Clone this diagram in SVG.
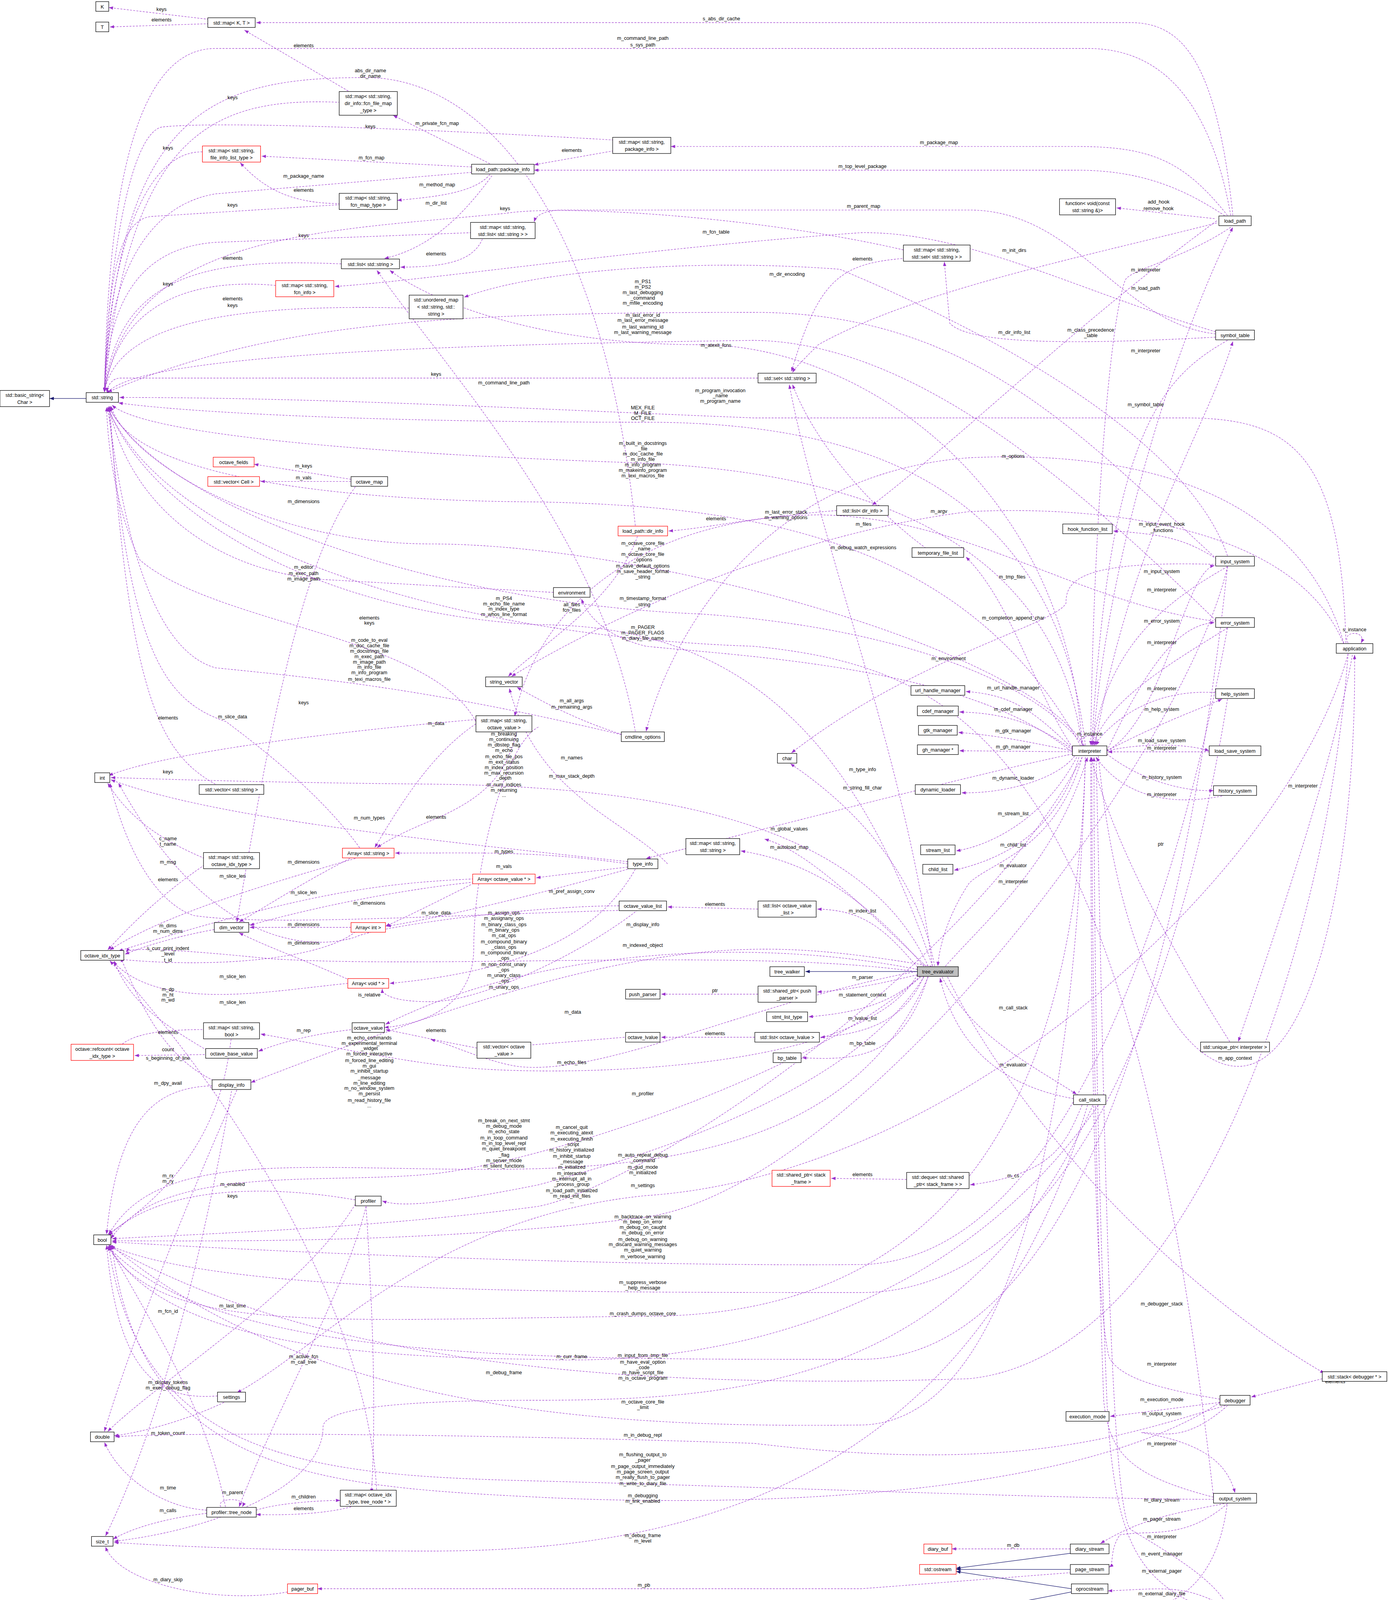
<svg xmlns="http://www.w3.org/2000/svg" width="3557" height="4321" viewBox="0 0 3557 4321">
<defs>
<style>
.n rect{fill:#fff;stroke:#000;stroke-width:.45}
.n.r rect{stroke:#f00}
.n.g rect{fill:#bfbfbf}
text{font-family:"Liberation Sans",Arial,sans-serif;font-size:4.6px;fill:#000}
.n text{text-anchor:middle}
.l{text-anchor:middle}
#edges path.e{fill:none;stroke:#9a32cd;stroke-width:.4;stroke-dasharray:1.8,1.2;marker-end:url(#ap)}
#edges path.b{fill:none;stroke:#191970;stroke-width:.45;marker-end:url(#ab)}
</style>
<marker id="ap" markerUnits="userSpaceOnUse" markerWidth="4" markerHeight="3" refX="4" refY="1.5" orient="auto"><path d="M0,0L4,1.5L0,3z" fill="#9a32cd"/></marker>
<marker id="ab" markerUnits="userSpaceOnUse" markerWidth="4" markerHeight="3" refX="4" refY="1.5" orient="auto"><path d="M0,0L4,1.5L0,3z" fill="#191970"/></marker>
</defs>
<rect width="3557" height="4321" fill="#fff"/>
<g transform="scale(2.7574)">
<g id="edges">
<path class="e" d="M194,18L101,7"/><text class="l" x="150" y="10">keys</text>
<path class="e" d="M194,22L102,25"/><text class="l" x="150" y="20">elements</text>
<path class="e" d="M1145,200C1130,60 1100,21 1050,21L238,21"/><text class="l" x="670" y="19">s_abs_dir_cache</text>
<path class="e" d="M1143,200C1120,70 1060,45 1010,45L200,45C120,45 100,200 97,364"/><text class="l" x="597" y="37">m_command_line_path</text><text class="l" x="597" y="43">s_sys_path</text>
<path class="e" d="M326,86L227,28"/><text class="l" x="282" y="44">elements</text>
<path class="e" d="M590,488C560,200 450,72 340,72C200,72 110,100 97,364"/><text class="l" x="344" y="67">abs_dir_name</text><text class="l" x="344" y="72">dir_name</text>
<path class="e" d="M316,95C200,90 120,120 97,364"/><text class="l" x="216" y="92">keys</text>
<path class="e" d="M570,130C400,120 200,112 150,118C120,125 100,250 97,364"/><text class="l" x="344" y="119">keys</text>
<path class="e" d="M188,141C130,140 100,250 97,364"/><text class="l" x="156" y="139">keys</text>
<path class="e" d="M438,155L243,145"/><text class="l" x="345" y="148">m_fcn_map</text>
<path class="e" d="M455,152L365,107"/><text class="l" x="406" y="116">m_private_fcn_map</text>
<path class="e" d="M570,140L496,153"/><text class="l" x="531" y="141">elements</text>
<path class="e" d="M1140,200C1100,150 1070,136 1000,136L623,136"/><text class="l" x="872" y="134">m_package_map</text>
<path class="e" d="M1140,202C1100,175 1060,158 1000,158L496,158"/><text class="l" x="801" y="156">m_top_level_package</text>
<path class="e" d="M438,160L200,180C140,190 100,250 97,364"/><text class="l" x="282" y="165">m_package_name</text>
<path class="e" d="M455,162C440,180 400,183 369,186"/><text class="l" x="406" y="173">m_method_map</text>
<path class="e" d="M316,189C270,189 245,175 223,151"/><text class="l" x="282" y="178">elements</text>
<path class="e" d="M316,190L140,201C110,205 100,260 97,364"/><text class="l" x="216" y="192">keys</text>
<path class="e" d="M457,163C430,200 400,230 357,240"/><text class="l" x="405" y="190">m_dir_list</text>
<path class="e" d="M448,222C440,240 420,248 372,248"/><text class="l" x="405" y="237">elements</text>
<path class="e" d="M438,216L200,225C130,230 100,280 97,364"/><text class="l" x="282" y="220">keys</text>
<path class="e" d="M1129,310C1040,300 1000,195 900,195L520,195C500,196 497,203 496,206"/><text class="l" x="802" y="193">m_parent_map</text>
<path class="e" d="M839,232C700,200 520,190 470,198C300,215 120,215 97,364"/><text class="l" x="469" y="195">keys</text>
<path class="e" d="M317,245C200,240 110,250 97,364"/><text class="l" x="216" y="241">elements</text>
<path class="e" d="M256,265C180,258 110,280 97,364"/><text class="l" x="156" y="265">keys</text>
<path class="e" d="M1129,308C1000,270 900,215 800,216C600,230 400,260 311,266"/><text class="l" x="665" y="217">m_fcn_table</text>
<path class="e" d="M838,240C780,245 760,260 735,345"/><text class="l" x="801" y="242">elements</text>
<path class="e" d="M380,286C250,283 110,290 97,364"/><text class="l" x="216" y="279">elements</text><text class="l" x="216" y="285">keys</text>
<path class="e" d="M1140,516C1100,400 900,300 780,250C650,240 500,250 431,276"/><text class="l" x="731" y="256">m_dir_encoding</text>
<path class="e" d="M1130,207C1000,240 850,270 760,320C745,335 738,342 736,346"/><text class="l" x="942" y="234">m_init_dirs</text>
<path class="e" d="M590,679C560,500 420,350 350,251"/><text class="l" x="468" y="357">m_command_line_path</text>
<path class="e" d="M1005,692C990,450 800,320 650,320C500,320 400,280 362,251"/><text class="l" x="665" y="322">m_atexit_fcns</text>
<path class="e" d="M1130,519C1000,400 900,290 700,290C400,290 250,300 100,364"/><text class="l" x="597" y="263">m_PS1</text><text class="l" x="597" y="268">m_PS2</text><text class="l" x="597" y="273">m_last_debugging</text><text class="l" x="597" y="278">_command</text><text class="l" x="597" y="283">m_mfile_encoding</text>
<path class="e" d="M1129,576C1000,450 850,318 700,316C400,320 120,330 99,366"/><text class="l" x="597" y="294">m_last_error_id</text><text class="l" x="597" y="299">m_last_error_message</text><text class="l" x="597" y="305">m_last_warning_id</text><text class="l" x="597" y="310">m_last_warning_message</text>
<path class="e" d="M1129,313C1000,320 900,320 882,300L877,243"/><text class="l" x="942" y="310">m_dir_info_list</text><text class="l" x="1013" y="308">m_class_precedence</text><text class="l" x="1013" y="313">_table</text>
<path class="e" d="M704,351L112,351C104,351 100,358 99,364"/><text class="l" x="405" y="349">keys</text>
<path class="e" d="M1015,692C1030,500 1100,300 1145,211"/><text class="l" x="1064" y="269">m_load_path</text>
<path class="e" d="M1143,211C1100,240 1050,250 1045,260C1030,300 1015,500 1013,692"/><text class="l" x="1064" y="252">m_interpreter</text>
<path class="e" d="M1017,692C1050,500 1120,400 1145,317"/><text class="l" x="1064" y="377">m_symbol_table</text>
<path class="e" d="M1140,316C1080,350 1030,400 1014,692"/><text class="l" x="1064" y="327">m_interpreter</text>
<path class="b" d="M80,370L46,370"/>
<path class="e" d="M1250,597C1245,420 1200,388 1100,388L700,388C500,380 300,369 111,369"/><text class="l" x="669" y="364">m_program_invocation</text><text class="l" x="669" y="369">_name</text><text class="l" x="669" y="374">m_program_name</text>
<path class="e" d="M1008,692C980,450 800,392 600,392C300,392 150,380 110,374"/><text class="l" x="597" y="380">MEX_FILE</text><text class="l" x="597" y="385">M_FILE</text><text class="l" x="597" y="390">OCT_FILE</text>
<path class="e" d="M1005,693C980,500 800,440 600,430C300,420 130,400 104,376"/><text class="l" x="597" y="413">m_built_in_docstrings</text><text class="l" x="597" y="418">_file</text><text class="l" x="597" y="423">m_doc_cache_file</text><text class="l" x="597" y="428">m_info_file</text><text class="l" x="597" y="433">m_info_program</text><text class="l" x="597" y="438">m_makeinfo_program</text><text class="l" x="597" y="443">m_texi_macros_file</text>
<path class="e" d="M326,445L236,431"/><text class="l" x="282" y="434">m_keys</text>
<path class="e" d="M326,447L242,447"/><text class="l" x="282" y="445">m_vals</text>
<path class="e" d="M330,452C280,520 250,680 220,856"/><text class="l" x="282" y="467">m_dimensions</text>
<path class="e" d="M1005,695C900,500 700,470 500,466C300,465 120,440 102,377"/>
<path class="e" d="M1130,205C1000,300 900,400 810,469"/>
<path class="e" d="M777,474C700,480 660,490 621,493"/><text class="l" x="665" y="483">elements</text>
<path class="e" d="M1130,577C1000,560 900,480 760,478C600,480 500,560 478,665"/><text class="l" x="730" y="477">m_last_error_stack</text><text class="l" x="730" y="482">m_warning_options</text>
<path class="e" d="M860,509C820,480 760,420 736,357"/><text class="l" x="802" y="488">m_files</text>
<path class="e" d="M866,897C840,700 760,500 733,357"/><text class="l" x="802" y="510">m_debug_watch_expressions</text>
<path class="e" d="M1007,692C950,600 600,505 400,505C250,505 120,430 103,377"/><text class="l" x="597" y="506">m_octave_core_file</text><text class="l" x="597" y="511">_name</text><text class="l" x="597" y="516">m_octave_core_file</text><text class="l" x="597" y="521">_options</text><text class="l" x="597" y="527">m_save_default_options</text><text class="l" x="597" y="532">m_save_header_format</text><text class="l" x="597" y="537">_string</text>
<path class="e" d="M514,550L300,538C200,530 120,470 101,377"/><text class="l" x="282" y="528">m_editor</text><text class="l" x="282" y="534">m_exec_path</text><text class="l" x="282" y="539">m_image_path</text>
<path class="e" d="M866,897C800,700 700,580 500,580C300,570 140,480 100,378"/><text class="l" x="468" y="557">m_PS4</text><text class="l" x="468" y="562">m_echo_file_name</text><text class="l" x="468" y="567">m_index_type</text><text class="l" x="468" y="572">m_whos_line_format</text>
<path class="e" d="M1007,693C950,620 800,580 650,570C400,560 150,470 101,378"/><text class="l" x="597" y="557">m_timestamp_format</text><text class="l" x="597" y="563">_string</text>
<path class="e" d="M1127,1390C1050,700 900,620 700,600C400,590 150,500 100,378"/><text class="l" x="597" y="584">m_PAGER</text><text class="l" x="597" y="589">m_PAGER_FLAGS</text><text class="l" x="597" y="594">m_diary_file_name</text>
<path class="e" d="M442,670C400,590 200,580 130,520C110,480 100,420 99,378"/><text class="l" x="343" y="575">elements</text><text class="l" x="343" y="580">keys</text>
<path class="e" d="M577,682C400,640 300,630 200,620C130,600 110,450 100,378"/><text class="l" x="343" y="596">m_code_to_eval</text><text class="l" x="343" y="601">m_doc_cache_file</text><text class="l" x="343" y="606">m_docstrings_file</text><text class="l" x="343" y="611">m_exec_path</text><text class="l" x="343" y="616">m_image_path</text><text class="l" x="343" y="621">m_info_file</text><text class="l" x="343" y="626">m_info_program</text><text class="l" x="343" y="632">m_texi_macros_file</text>
<path class="e" d="M994,697C900,620 700,610 600,600C560,590 545,570 540,556"/><text class="l" x="881" y="613">m_environment</text>
<path class="e" d="M592,498C570,560 500,600 472,628"/><text class="l" x="531" y="563">all_files</text><text class="l" x="531" y="568">fcn_files</text>
<path class="e" d="M578,682C540,670 510,655 480,638"/><text class="l" x="531" y="652">m_all_args</text><text class="l" x="531" y="658">m_remaining_args</text>
<path class="e" d="M1248,597C1200,430 1000,420 900,425C700,440 620,600 600,679"/><text class="l" x="941" y="425">m_options</text>
<path class="e" d="M1248,598C1200,480 1000,470 900,475C700,500 520,600 475,628"/><text class="l" x="872" y="476">m_argv</text>
<path class="e" d="M1130,524C1000,520 990,540 990,560C980,580 850,610 735,699"/><text class="l" x="941" y="575">m_completion_append_char</text>
<path class="e" d="M1130,519C1100,500 1080,496 1034,493"/><text class="l" x="1079" y="488">m_input_event_hook</text><text class="l" x="1079" y="494">_functions</text>
<path class="e" d="M1128,203L1037,193"/><text class="l" x="1076" y="189">add_hook</text><text class="l" x="1076" y="195">remove_hook</text>
<path class="e" d="M996,694C960,640 940,560 897,517"/><text class="l" x="940" y="537">m_tmp_files</text>
<path class="e" d="M996,695C960,660 940,645 897,642"/><text class="l" x="941" y="640">m_url_handle_manager</text>
<path class="e" d="M996,696C960,670 930,662 891,661"/><text class="l" x="941" y="660">m_cdef_manager</text>
<path class="e" d="M996,697C960,690 930,683 890,680"/><text class="l" x="941" y="680">m_gtk_manager</text>
<path class="e" d="M996,698L891,697"/><text class="l" x="941" y="695">m_gh_manager</text>
<path class="e" d="M998,702C980,725 930,737 893,736"/><text class="l" x="941" y="724">m_dynamic_loader</text>
<path class="e" d="M1000,703C970,760 920,785 888,790"/><text class="l" x="941" y="757">m_stream_list</text>
<path class="e" d="M1002,703C980,780 920,800 886,808"/><text class="l" x="941" y="786">m_child_list</text>
<path class="e" d="M1005,703C980,790 920,800 900,820C880,850 872,880 871,897"/><text class="l" x="941" y="805">m_evaluator</text>
<path class="e" d="M878,897C920,850 980,800 1010,703"/><text class="l" x="941" y="820">m_interpreter</text>
<path class="e" d="M1028,697C1080,670 1100,530 1128,525"/><text class="l" x="1079" y="532">m_input_system</text>
<path class="e" d="M1140,526C1080,560 1030,600 1014,692"/><text class="l" x="1079" y="549">m_interpreter</text>
<path class="e" d="M1028,697C1060,630 1090,580 1128,578"/><text class="l" x="1079" y="578">m_error_system</text>
<path class="e" d="M1140,583C1080,620 1030,650 1015,692"/><text class="l" x="1079" y="598">m_interpreter</text>
<path class="e" d="M1028,697C1080,670 1110,660 1135,649"/><text class="l" x="1079" y="660">m_help_system</text>
<path class="e" d="M1128,643C1080,640 1040,660 1016,692"/><text class="l" x="1079" y="641">m_interpreter</text>
<path class="e" d="M1028,697C1060,690 1100,690 1123,697"/><text class="l" x="1079" y="689">m_load_save_system</text>
<path class="e" d="M1123,698L1029,698"/><text class="l" x="1079" y="696">m_interpreter</text>
<path class="e" d="M1028,700C1060,725 1100,735 1127,734"/><text class="l" x="1079" y="723">m_history_system</text>
<path class="e" d="M1135,739C1080,750 1040,735 1018,703"/><text class="l" x="1079" y="739">m_interpreter</text>
<path class="e" d="M1006,692C1000,680 1024,680 1018,692"/><text class="l" x="1012" y="683">m_instance</text>
<path class="e" d="M1252,597C1245,585 1270,585 1264,597"/><text class="l" x="1258" y="586">s_instance</text>
<path class="e" d="M1256,608C1240,700 1190,850 1150,967"/><text class="l" x="1210" y="731">m_interpreter</text>
<path class="e" d="M1142,967C1100,900 1040,800 1013,703"/><text class="l" x="1078" y="785">ptr</text>
<path class="e" d="M1020,702C1040,900 1100,990 1150,990C1220,990 1260,800 1258,608"/><text class="l" x="1147" y="984">m_app_context</text>
<path class="e" d="M996,700C900,720 750,760 600,797"/><text class="l" x="801" y="716">m_type_info</text>
<path class="e" d="M868,897C850,800 780,740 734,709"/><text class="l" x="801" y="733">m_string_fill_char</text>
<path class="e" d="M860,897C800,840 750,790 710,779"/><text class="l" x="733" y="771">m_global_values</text>
<path class="e" d="M858,897C800,830 750,800 688,790"/><text class="l" x="733" y="788">m_autoload_map</text>
<path class="e" d="M862,897C800,760 600,730 400,728C200,726 120,722 103,722"/><text class="l" x="531" y="722">m_max_stack_depth</text>
<path class="e" d="M620,802C580,760 500,740 473,639"/><text class="l" x="531" y="705">m_names</text>
<path class="e" d="M583,802C500,790 450,792 367,792"/><text class="l" x="468" y="792">m_types</text>
<path class="e" d="M583,805C540,810 520,812 498,815"/><text class="l" x="468" y="806">m_vals</text>
<path class="e" d="M583,807C500,830 420,850 359,860"/><text class="l" x="531" y="829">m_pref_assign_conv</text>
<path class="e" d="M590,807C560,860 500,900 362,913"/><text class="l" x="468" y="849">m_assign_ops</text><text class="l" x="468" y="854">m_assignany_ops</text><text class="l" x="468" y="860">m_binary_class_ops</text><text class="l" x="468" y="865">m_binary_ops</text><text class="l" x="468" y="870">m_cat_ops</text><text class="l" x="468" y="876">m_compound_binary</text><text class="l" x="468" y="881">_class_ops</text><text class="l" x="468" y="886">m_compound_binary</text><text class="l" x="468" y="891">_ops</text><text class="l" x="468" y="897">m_non_const_unary</text><text class="l" x="468" y="902">_ops</text><text class="l" x="468" y="907">m_unary_class</text><text class="l" x="468" y="912">_ops</text><text class="l" x="468" y="918">m_unary_ops</text><text class="l" x="468" y="923">...</text>
<path class="e" d="M583,800C400,780 200,760 103,724"/><text class="l" x="343" y="761">m_num_types</text>
<path class="e" d="M442,672C400,700 370,750 348,787"/><text class="l" x="405" y="673">m_data</text>
<path class="e" d="M480,679C470,720 450,740 405,760C380,770 360,780 350,787"/><text class="l" x="405" y="760">elements</text>
<path class="e" d="M500,675C470,690 440,800 440,880C440,930 400,950 357,954"/><text class="l" x="468" y="683">m_breaking</text><text class="l" x="468" y="688">m_continuing</text><text class="l" x="468" y="693">m_dbstep_flag</text><text class="l" x="468" y="698">m_echo</text><text class="l" x="468" y="704">m_echo_file_pos</text><text class="l" x="468" y="709">m_exit_status</text><text class="l" x="468" y="714">m_index_position</text><text class="l" x="468" y="719">m_max_recursion</text><text class="l" x="468" y="724">_depth</text><text class="l" x="468" y="730">m_num_indices</text><text class="l" x="468" y="735">m_returning</text><text class="l" x="468" y="740">...</text>
<path class="e" d="M334,787C300,740 250,700 210,670C150,650 120,600 101,378"/><text class="l" x="216" y="667">m_slice_data</text>
<path class="e" d="M200,728C150,700 120,650 102,378"/><text class="l" x="156" y="668">elements</text>
<path class="e" d="M442,668C300,680 150,700 101,720"/><text class="l" x="282" y="654">keys</text>
<path class="e" d="M190,797C150,780 120,760 100,727"/><text class="l" x="156" y="718">keys</text>
<path class="e" d="M190,803C150,830 120,860 100,882"/><text class="l" x="156" y="818">elements</text>
<path class="e" d="M330,797C250,820 150,850 102,882"/><text class="l" x="216" y="815">m_slice_len</text>
<path class="e" d="M325,797C280,820 250,840 222,856"/><text class="l" x="282" y="802">m_dimensions</text>
<path class="e" d="M440,816C350,820 280,830 110,883"/><text class="l" x="282" y="830">m_slice_len</text>
<path class="e" d="M440,819C380,825 300,840 232,859"/><text class="l" x="343" y="840">m_dimensions</text>
<path class="e" d="M440,820C400,840 380,850 358,860"/><text class="l" x="405" y="849">m_slice_data</text>
<path class="e" d="M326,861L232,861"/><text class="l" x="282" y="860">m_dimensions</text>
<path class="e" d="M330,865C300,890 200,900 105,890"/><text class="l" x="216" y="908">m_slice_len</text>
<path class="e" d="M325,910C280,890 250,880 222,866"/><text class="l" x="282" y="877">m_dimensions</text>
<path class="e" d="M323,913C250,920 150,940 105,893"/><text class="l" x="216" y="932">m_slice_len</text>
<path class="e" d="M199,863C160,870 130,880 116,886"/><text class="l" x="156" y="861">m_dims</text><text class="l" x="156" y="866">m_num_dims</text>
<path class="e" d="M597,841C550,880 450,930 400,930C370,930 355,925 355,918"/><text class="l" x="343" y="925">is_relative</text>
<path class="e" d="M865,897C700,870 600,862 233,1005"/><text class="l" x="597" y="860">m_display_info</text>
<path class="e" d="M852,900C700,870 500,880 358,951"/><text class="l" x="597" y="879">m_indexed_object</text>
<path class="e" d="M443,973C400,965 380,960 358,956"/><text class="l" x="405" y="958">elements</text>
<path class="e" d="M326,956C290,960 260,968 240,976"/><text class="l" x="282" y="958">m_rep</text>
<path class="e" d="M580,963L483,971"/><text class="l" x="532" y="941">m_data</text>
<path class="e" d="M851,902C700,930 560,1000 480,990C450,985 420,970 400,965"/><text class="l" x="531" y="988">m_echo_files</text>
<path class="e" d="M852,905C800,1000 500,1000 420,990C370,985 300,970 242,960"/><text class="l" x="343" y="965">m_echo_commands</text><text class="l" x="343" y="970">m_experimental_terminal</text><text class="l" x="343" y="975">_widget</text><text class="l" x="343" y="980">m_forced_interactive</text><text class="l" x="343" y="986">m_forced_line_editing</text><text class="l" x="343" y="991">m_gui</text><text class="l" x="343" y="996">m_inhibit_startup</text><text class="l" x="343" y="1002">_message</text><text class="l" x="343" y="1007">m_line_editing</text><text class="l" x="343" y="1012">m_no_window_system</text><text class="l" x="343" y="1017">m_persist</text><text class="l" x="343" y="1023">m_read_history_file</text><text class="l" x="343" y="1028">...</text>
<path class="e" d="M200,956C150,955 120,960 110,973"/><text class="l" x="156" y="960">elements</text>
<path class="e" d="M193,979L125,980"/><text class="l" x="156" y="976">count</text>
<path class="e" d="M192,975C150,950 120,930 106,892"/><text class="l" x="156" y="984">s_beginning_of_line</text>
<path class="e" d="M198,1003C150,980 130,930 112,889"/><text class="l" x="156" y="920">m_dp</text><text class="l" x="156" y="925">m_ht</text><text class="l" x="156" y="930">m_wd</text>
<path class="e" d="M197,1008C150,1010 110,1030 99,1146"/><text class="l" x="156" y="1007">m_dpy_avail</text>
<path class="e" d="M581,841C500,840 350,860 330,870C300,880 200,890 110,727"/><text class="l" x="156" y="780">c_name</text><text class="l" x="156" y="785">t_name</text>
<path class="e" d="M583,845C400,850 250,860 180,850C150,840 120,800 102,727"/><text class="l" x="156" y="802">m_msg</text>
<path class="e" d="M850,902C700,880 400,900 250,890C150,880 120,880 117,884"/><text class="l" x="156" y="882">s_curr_print_indent</text><text class="l" x="156" y="887">_level</text><text class="l" x="156" y="893">t_id</text>
<path class="e" d="M704,844L620,842"/><text class="l" x="664" y="841">elements</text>
<path class="e" d="M852,898C820,860 800,845 759,844"/><text class="l" x="801" y="847">m_index_list</text>
<path class="b" d="M852,902L748,902"/>
<path class="e" d="M852,905C830,910 800,918 759,921"/><text class="l" x="801" y="909">m_parser</text>
<path class="e" d="M704,923L614,923"/><text class="l" x="664" y="921">ptr</text>
<path class="e" d="M855,906C830,930 800,940 751,944"/><text class="l" x="801" y="925">m_statement_context</text>
<path class="e" d="M858,906C840,950 800,960 762,963"/><text class="l" x="801" y="947">m_lvalue_list</text>
<path class="e" d="M701,963L614,963"/><text class="l" x="664" y="961">elements</text>
<path class="e" d="M862,906C840,980 800,985 745,982"/><text class="l" x="801" y="970">m_bp_table</text>
<path class="e" d="M875,907C900,960 960,990 1000,1016"/><text class="l" x="941" y="937">m_call_stack</text>
<path class="e" d="M997,1020C940,1010 890,980 873,908"/><text class="l" x="941" y="990">m_evaluator</text>
<path class="e" d="M1005,1026C990,1060 980,1090 901,1100"/><text class="l" x="941" y="1093">m_cs</text>
<path class="e" d="M842,1095L772,1094"/><text class="l" x="801" y="1092">elements</text>
<path class="e" d="M880,907C950,1050 1100,1200 1230,1275"/><text class="l" x="1079" y="1212">m_debugger_stack</text>
<path class="e" d="M1228,1280L1162,1297"/><text class="l" x="1240" y="1284">elements</text>
<path class="e" d="M1133,1302L1031,1315"/><text class="l" x="1079" y="1301">m_execution_mode</text>
<path class="e" d="M1140,1305C1100,1340 1080,1330 1060,1330C1120,1340 1140,1360 1147,1386"/><text class="l" x="1079" y="1314">m_output_system</text>
<path class="e" d="M1133,1299C1080,1290 1040,1280 1030,1260C1015,1200 1013,900 1013,703"/><text class="l" x="1079" y="1268">m_interpreter</text>
<path class="e" d="M1127,1390C1050,1370 1030,1350 1025,1300C1018,1100 1014,900 1014,703"/><text class="l" x="1079" y="1342">m_interpreter</text>
<path class="e" d="M1137,1396C1090,1405 1060,1410 1022,1433"/><text class="l" x="1079" y="1394">m_diary_stream</text>
<path class="e" d="M1140,1396C1100,1430 1070,1420 1040,1425C1030,1440 1035,1452 1030,1455"/><text class="l" x="1079" y="1412">m_pager_stream</text>
<path class="e" d="M1130,1498C1060,1470 1035,1440 1028,1300C1020,1100 1016,900 1016,703"/><text class="l" x="1079" y="1428">m_interpreter</text>
<path class="e" d="M1018,703C1025,1000 1030,1400 1050,1420C1100,1450 1130,1470 1141,1493"/><text class="l" x="1079" y="1444">m_event_manager</text>
<path class="e" d="M1140,1493C1100,1470 1080,1475 1029,1477"/><text class="l" x="1079" y="1460">m_external_pager</text>
<path class="e" d="M1140,1394C1130,1480 1080,1500 1028,1497"/><text class="l" x="1079" y="1481">m_external_diary_file</text>
<path class="e" d="M1140,1503C1100,1515 1080,1515 1044,1515"/><text class="l" x="1079" y="1505">m_instance</text><text class="l" x="1079" y="1510">m_qt_event_handlers</text>
<path class="e" d="M1142,1503C1110,1530 1080,1535 1023,1536"/><text class="l" x="1079" y="1522">m_event_queue_mutex</text>
<path class="e" d="M1145,1503C1110,1550 1080,1555 1040,1557"/><text class="l" x="1079" y="1539">m_gui_event_queue</text>
<path class="e" d="M994,1438L884,1438"/><text class="l" x="941" y="1436">m_db</text>
<path class="b" d="M995,1442L888,1456"/>
<path class="b" d="M994,1457L888,1457"/>
<path class="b" d="M995,1475L888,1459"/>
<path class="b" d="M995,1478L892,1498"/>
<path class="b" d="M996,1497L895,1514"/>
<path class="e" d="M995,1460L800,1475L295,1475"/><text class="l" x="598" y="1473">m_pb</text>
<path class="e" d="M267,1478C200,1490 110,1470 98,1436"/><text class="l" x="156" y="1468">m_diary_skip</text>
<path class="e" d="M192,1405C150,1410 120,1420 105,1429"/><text class="l" x="156" y="1404">m_calls</text>
<path class="e" d="M192,1402C150,1400 110,1370 97,1339"/><text class="l" x="156" y="1383">m_time</text>
<path class="e" d="M238,1402C260,1395 300,1393 316,1393"/><text class="l" x="282" y="1391">m_children</text>
<path class="e" d="M326,1399C300,1406 260,1407 238,1406"/><text class="l" x="282" y="1402">elements</text>
<path class="e" d="M205,1399C200,1390 230,1390 225,1399"/><text class="l" x="216" y="1387">m_parent</text>
<path class="e" d="M340,1120C320,1200 260,1300 222,1399"/><text class="l" x="282" y="1261">m_active_fcn</text><text class="l" x="282" y="1266">m_call_tree</text>
<path class="e" d="M330,1114C250,1100 150,1100 101,1147"/><text class="l" x="216" y="1101">m_enabled</text>
<path class="e" d="M330,1118C280,1200 150,1280 100,1329"/><text class="l" x="216" y="1214">m_last_time</text>
<path class="e" d="M340,1120C345,1200 350,1300 345,1386"/>
<path class="e" d="M202,1296C150,1300 110,1280 99,1156"/><text class="l" x="156" y="1285">m_display_tokens</text><text class="l" x="156" y="1290">m_exec_debug_flag</text>
<path class="e" d="M208,1302C170,1320 130,1330 106,1333"/><text class="l" x="156" y="1332">m_token_count</text>
<path class="e" d="M210,1402C190,1300 140,1230 101,1156"/><text class="l" x="156" y="1219">m_fcn_id</text>
<path class="e" d="M350,1386C340,1200 200,1000 102,892"/>
<path class="e" d="M220,1012C180,1100 120,1250 97,1329"/>
<path class="e" d="M215,1013C200,1100 160,1300 98,1426"/>
<path class="e" d="M855,907C750,1000 500,1080 400,1090C300,1100 150,1080 103,1150"/><text class="l" x="156" y="1093">m_rx</text><text class="l" x="156" y="1098">m_ry</text>
<path class="e" d="M215,962C210,1000 200,1080 100,1146"/><text class="l" x="216" y="1112">keys</text>
<path class="e" d="M858,907C800,1000 650,1060 500,1100C400,1120 370,1120 355,1115"/><text class="l" x="597" y="1017">m_profiler</text>
<path class="e" d="M862,907C800,1050 650,1080 500,1085C300,1090 150,1060 101,1146"/><text class="l" x="468" y="1042">m_break_on_next_stmt</text><text class="l" x="468" y="1047">m_debug_mode</text><text class="l" x="468" y="1052">m_echo_state</text><text class="l" x="468" y="1058">m_in_loop_command</text><text class="l" x="468" y="1063">m_in_top_level_repl</text><text class="l" x="468" y="1068">m_quiet_breakpoint</text><text class="l" x="468" y="1074">_flag</text><text class="l" x="468" y="1079">m_server_mode</text><text class="l" x="468" y="1084">m_silent_functions</text>
<path class="e" d="M1005,703C900,900 600,1100 500,1120C350,1140 200,1145 104,1150"/><text class="l" x="531" y="1048">m_cancel_quit</text><text class="l" x="531" y="1053">m_executing_atexit</text><text class="l" x="531" y="1059">m_executing_finish</text><text class="l" x="531" y="1064">_script</text><text class="l" x="531" y="1069">m_history_initialized</text><text class="l" x="531" y="1075">m_inhibit_startup</text><text class="l" x="531" y="1080">_message</text><text class="l" x="531" y="1085">m_initialized</text><text class="l" x="531" y="1091">m_interactive</text><text class="l" x="531" y="1096">m_interrupt_all_in</text><text class="l" x="531" y="1101">_process_group</text><text class="l" x="531" y="1107">m_load_path_initialized</text><text class="l" x="531" y="1112">m_read_init_files</text><text class="l" x="531" y="1117">...</text>
<path class="e" d="M1140,526C1100,700 800,1100 600,1130C400,1155 200,1152 104,1152"/><text class="l" x="597" y="1074">m_auto_repeat_debug</text><text class="l" x="597" y="1079">_command</text><text class="l" x="597" y="1085">m_gud_mode</text><text class="l" x="597" y="1090">m_initialized</text>
<path class="e" d="M1252,607C1200,800 900,1090 600,1110C400,1130 300,1250 220,1293"/><text class="l" x="597" y="1102">m_settings</text>
<path class="e" d="M1140,583C1100,800 1000,1170 800,1174C600,1176 300,1165 104,1153"/><text class="l" x="597" y="1131">m_backtrace_on_warning</text><text class="l" x="597" y="1136">m_beep_on_error</text><text class="l" x="597" y="1141">m_debug_on_caught</text><text class="l" x="597" y="1146">m_debug_on_error</text><text class="l" x="597" y="1152">m_debug_on_warning</text><text class="l" x="597" y="1157">m_discard_warning_messages</text><text class="l" x="597" y="1162">m_quiet_warning</text><text class="l" x="597" y="1168">m_verbose_warning</text>
<path class="e" d="M1140,649C1100,900 1000,1200 800,1200C500,1200 200,1200 101,1156"/><text class="l" x="597" y="1192">m_suppress_verbose</text><text class="l" x="597" y="1197">_help_message</text>
<path class="e" d="M1008,703C1000,1000 900,1222 600,1222C300,1225 150,1240 100,1157"/><text class="l" x="597" y="1221">m_crash_dumps_octave_core</text>
<path class="e" d="M1140,526C1100,900 1000,1262 800,1262C500,1262 200,1265 100,1157"/><text class="l" x="597" y="1260">m_input_from_tmp_file</text>
<path class="e" d="M1252,607C1230,900 1100,1260 900,1280C600,1290 300,1270 102,1157"/><text class="l" x="597" y="1266">m_have_eval_option</text><text class="l" x="597" y="1271">_code</text><text class="l" x="597" y="1276">m_have_script_file</text><text class="l" x="597" y="1281">m_is_octave_program</text>
<path class="e" d="M1020,1026C900,1200 700,1270 500,1262C300,1260 150,1240 101,1157"/><text class="l" x="531" y="1261">m_curr_frame</text>
<path class="e" d="M1015,1026C900,1280 700,1300 500,1300C350,1300 300,1310 300,1325C300,1380 200,1420 106,1431"/><text class="l" x="468" y="1276">m_debug_frame</text>
<path class="e" d="M1008,703C1000,1000 950,1320 800,1323C600,1325 300,1320 103,1156"/><text class="l" x="597" y="1303">m_octave_core_file</text><text class="l" x="597" y="1308">_limit</text>
<path class="e" d="M1138,1305C1050,1330 950,1370 700,1340C400,1330 150,1330 107,1334"/><text class="l" x="597" y="1334">m_in_debug_repl</text>
<path class="e" d="M1127,1392C1000,1392 700,1380 500,1375C300,1370 130,1360 101,1157"/><text class="l" x="597" y="1352">m_flushing_output_to</text><text class="l" x="597" y="1357">_pager</text><text class="l" x="597" y="1363">m_page_output_immediately</text><text class="l" x="597" y="1368">m_page_screen_output</text><text class="l" x="597" y="1373">m_really_flush_to_pager</text><text class="l" x="597" y="1379">m_write_to_diary_file</text>
<path class="e" d="M1133,1302C1000,1390 700,1400 500,1390C300,1380 130,1370 104,1156"/><text class="l" x="597" y="1390">m_debugging</text><text class="l" x="597" y="1395">m_link_enabled</text>
<path class="e" d="M1010,1026C900,1400 600,1440 400,1440C250,1440 150,1435 106,1432"/><text class="l" x="597" y="1427">m_debug_frame</text><text class="l" x="597" y="1432">m_level</text>
</g>
<g id="nodes">
<g id="K" class="n"><rect x="89" y="1.5" width="12" height="9"/><text x="95" y="7.8">K</text></g>
<g id="T" class="n"><rect x="89" y="20.5" width="12" height="9"/><text x="95" y="26.8">T</text></g>
<g id="mapKT" class="n"><rect x="193" y="16.5" width="44" height="9"/><text x="215" y="22.8">std::map&lt; K, T &gt;</text></g>
<g id="mapFcnFile" class="n"><rect x="315" y="85" width="54" height="22"/><text x="342" y="91">std::map&lt; std::string,</text><text x="342" y="97.5">dir_info::fcn_file_map</text><text x="342" y="104">_type &gt;</text></g>
<g id="mapFileInfo" class="n r"><rect x="188" y="135.5" width="54" height="15"/><text x="215" y="141.5">std::map&lt; std::string,</text><text x="215" y="148">file_info_list_type &gt;</text></g>
<g id="pkgInfo" class="n"><rect x="438" y="152.5" width="58" height="9"/><text x="467" y="158.8">load_path::package_info</text></g>
<g id="mapPkg" class="n"><rect x="569" y="127.5" width="54" height="15"/><text x="596" y="133.5">std::map&lt; std::string,</text><text x="596" y="140">package_info &gt;</text></g>
<g id="mapFcnMap" class="n"><rect x="315" y="179.5" width="54" height="15"/><text x="342" y="185.5">std::map&lt; std::string,</text><text x="342" y="192">fcn_map_type &gt;</text></g>
<g id="mapList" class="n"><rect x="437" y="206.5" width="60" height="15"/><text x="467" y="212.5">std::map&lt; std::string,</text><text x="467" y="219">std::list&lt; std::string &gt; &gt;</text></g>
<g id="listStr" class="n"><rect x="317" y="240.5" width="54" height="9"/><text x="344" y="246.8">std::list&lt; std::string &gt;</text></g>
<g id="mapFcnInfo" class="n r"><rect x="256" y="260.5" width="54" height="15"/><text x="283" y="266.5">std::map&lt; std::string,</text><text x="283" y="273">fcn_info &gt;</text></g>
<g id="unordMap" class="n"><rect x="380" y="274" width="50" height="22"/><text x="405" y="280">std::unordered_map</text><text x="405" y="286.5">&lt; std::string, std::</text><text x="405" y="293">string &gt;</text></g>
<g id="basicStr" class="n"><rect x="0" y="362.5" width="46" height="15"/><text x="23" y="368.5">std::basic_string&lt;</text><text x="23" y="375">Char &gt;</text></g>
<g id="stdString" class="n"><rect x="80" y="364.5" width="30" height="9"/><text x="95" y="370.8">std::string</text></g>
<g id="func" class="n"><rect x="984" y="184.5" width="52" height="15"/><text x="1010" y="190.5">function&lt; void(const</text><text x="1010" y="197">std::string &amp;)&gt;</text></g>
<g id="loadPath" class="n"><rect x="1132" y="200.5" width="30" height="9"/><text x="1147" y="206.8">load_path</text></g>
<g id="mapSet" class="n"><rect x="839" y="227.5" width="62" height="15"/><text x="870" y="233.5">std::map&lt; std::string,</text><text x="870" y="240">std::set&lt; std::string &gt; &gt;</text></g>
<g id="symTab" class="n"><rect x="1129" y="306.5" width="36" height="9"/><text x="1147" y="312.8">symbol_table</text></g>
<g id="setStr" class="n"><rect x="704" y="346.5" width="54" height="9"/><text x="731" y="352.8">std::set&lt; std::string &gt;</text></g>
<g id="octFields" class="n r"><rect x="198" y="424.5" width="38" height="9"/><text x="217" y="430.8">octave_fields</text></g>
<g id="vecCell" class="n r"><rect x="193" y="442.5" width="48" height="9"/><text x="217" y="448.8">std::vector&lt; Cell &gt;</text></g>
<g id="octMap" class="n"><rect x="326" y="442.5" width="34" height="9"/><text x="343" y="448.8">octave_map</text></g>
<g id="listDir" class="n"><rect x="777" y="469.5" width="48" height="9"/><text x="801" y="475.8">std::list&lt; dir_info &gt;</text></g>
<g id="dirInfo" class="n r"><rect x="574" y="488.5" width="46" height="9"/><text x="597" y="494.8">load_path::dir_info</text></g>
<g id="tmpFile" class="n"><rect x="847" y="508.5" width="48" height="9"/><text x="871" y="514.8">temporary_file_list</text></g>
<g id="hookList" class="n"><rect x="987" y="486.5" width="46" height="9"/><text x="1010" y="492.8">hook_function_list</text></g>
<g id="inputSys" class="n"><rect x="1129" y="516.5" width="36" height="9"/><text x="1147" y="522.8">input_system</text></g>
<g id="env" class="n"><rect x="514" y="545.5" width="34" height="9"/><text x="531" y="551.8">environment</text></g>
<g id="errSys" class="n"><rect x="1129" y="573.5" width="36" height="9"/><text x="1147" y="579.8">error_system</text></g>
<g id="app" class="n"><rect x="1241" y="597.5" width="34" height="9"/><text x="1258" y="603.8">application</text></g>
<g id="strVec" class="n"><rect x="451" y="628.5" width="34" height="9"/><text x="468" y="634.8">string_vector</text></g>
<g id="urlh" class="n"><rect x="846" y="636.5" width="50" height="9"/><text x="871" y="642.8">url_handle_manager</text></g>
<g id="helpSys" class="n"><rect x="1129" y="639.5" width="36" height="9"/><text x="1147" y="645.8">help_system</text></g>
<g id="cdef" class="n"><rect x="852" y="655.5" width="38" height="9"/><text x="871" y="661.8">cdef_manager</text></g>
<g id="mapOV" class="n"><rect x="442" y="664.5" width="52" height="15"/><text x="468" y="670.5">std::map&lt; std::string,</text><text x="468" y="677">octave_value &gt;</text></g>
<g id="cmdline" class="n"><rect x="577" y="679.5" width="40" height="9"/><text x="597" y="685.8">cmdline_options</text></g>
<g id="gtk" class="n"><rect x="853" y="673.5" width="36" height="9"/><text x="871" y="679.8">gtk_manager</text></g>
<g id="gh" class="n"><rect x="852" y="691.5" width="38" height="9"/><text x="871" y="697.8">gh_manager *</text></g>
<g id="interp" class="n"><rect x="996" y="692.5" width="32" height="9"/><text x="1012" y="698.8">interpreter</text></g>
<g id="lss" class="n"><rect x="1123" y="692.5" width="48" height="9"/><text x="1147" y="698.8">load_save_system</text></g>
<g id="char" class="n"><rect x="722" y="699.5" width="18" height="9"/><text x="731" y="705.8">char</text></g>
<g id="int" class="n"><rect x="88" y="717.5" width="14" height="9"/><text x="95" y="723.8">int</text></g>
<g id="vecStr" class="n"><rect x="185" y="728.5" width="60" height="9"/><text x="215" y="734.8">std::vector&lt; std::string &gt;</text></g>
<g id="dynl" class="n"><rect x="850" y="728.5" width="42" height="9"/><text x="871" y="734.8">dynamic_loader</text></g>
<g id="histSys" class="n"><rect x="1127" y="729.5" width="40" height="9"/><text x="1147" y="735.8">history_system</text></g>
<g id="arrStr" class="n r"><rect x="318" y="787.5" width="48" height="9"/><text x="342" y="793.8">Array&lt; std::string &gt;</text></g>
<g id="streamL" class="n"><rect x="855" y="784.5" width="32" height="9"/><text x="871" y="790.8">stream_list</text></g>
<g id="mapSS" class="n"><rect x="637" y="778.5" width="50" height="15"/><text x="662" y="784.5">std::map&lt; std::string,</text><text x="662" y="791">std::string &gt;</text></g>
<g id="mapIdx" class="n"><rect x="189" y="791.5" width="52" height="15"/><text x="215" y="797.5">std::map&lt; std::string,</text><text x="215" y="804">octave_idx_type &gt;</text></g>
<g id="typeInfo" class="n"><rect x="583" y="797.5" width="28" height="9"/><text x="597" y="803.8">type_info</text></g>
<g id="childL" class="n"><rect x="857" y="802.5" width="28" height="9"/><text x="871" y="808.8">child_list</text></g>
<g id="arrOVp" class="n r"><rect x="439" y="811.5" width="58" height="9"/><text x="468" y="817.8">Array&lt; octave_value * &gt;</text></g>
<g id="ovl" class="n"><rect x="575" y="836.5" width="44" height="9"/><text x="597" y="842.8">octave_value_list</text></g>
<g id="listOVL" class="n"><rect x="704" y="836.5" width="54" height="15"/><text x="731" y="842.5">std::list&lt; octave_value</text><text x="731" y="849">_list &gt;</text></g>
<g id="dimv" class="n"><rect x="199" y="856.5" width="32" height="9"/><text x="215" y="862.8">dim_vector</text></g>
<g id="arrInt" class="n r"><rect x="326" y="856.5" width="32" height="9"/><text x="342" y="862.8">Array&lt; int &gt;</text></g>
<g id="idxType" class="n"><rect x="75" y="882.5" width="40" height="9"/><text x="95" y="888.8">octave_idx_type</text></g>
<g id="treeW" class="n"><rect x="715" y="897.5" width="32" height="9"/><text x="731" y="903.8">tree_walker</text></g>
<g id="treeE" class="n g"><rect x="852" y="897.5" width="38" height="9"/><text x="871" y="903.8">tree_evaluator</text></g>
<g id="arrVoid" class="n r"><rect x="323" y="908.5" width="38" height="9"/><text x="342" y="914.8">Array&lt; void * &gt;</text></g>
<g id="pushP" class="n"><rect x="581" y="918.5" width="32" height="9"/><text x="597" y="924.8">push_parser</text></g>
<g id="spPush" class="n"><rect x="704" y="915.5" width="54" height="15"/><text x="731" y="921.5">std::shared_ptr&lt; push</text><text x="731" y="928">_parser &gt;</text></g>
<g id="stmtL" class="n"><rect x="712" y="939.5" width="38" height="9"/><text x="731" y="945.8">stmt_list_type</text></g>
<g id="ov" class="n"><rect x="327" y="949.5" width="30" height="9"/><text x="342" y="955.8">octave_value</text></g>
<g id="mapBool" class="n"><rect x="189" y="949.5" width="52" height="15"/><text x="215" y="955.5">std::map&lt; std::string,</text><text x="215" y="962">bool &gt;</text></g>
<g id="vecOV" class="n"><rect x="443" y="967.5" width="50" height="15"/><text x="468" y="973.5">std::vector&lt; octave</text><text x="468" y="980">_value &gt;</text></g>
<g id="olv" class="n"><rect x="581" y="958.5" width="32" height="9"/><text x="597" y="964.8">octave_lvalue</text></g>
<g id="listOLV" class="n"><rect x="701" y="958.5" width="60" height="9"/><text x="731" y="964.8">std::list&lt; octave_lvalue &gt;</text></g>
<g id="upInterp" class="n"><rect x="1115" y="967.5" width="64" height="9"/><text x="1147" y="973.8">std::unique_ptr&lt; interpreter &gt;</text></g>
<g id="refc" class="n r"><rect x="66" y="969.5" width="58" height="15"/><text x="95" y="975.5">octave::refcount&lt; octave</text><text x="95" y="982">_idx_type &gt;</text></g>
<g id="obv" class="n"><rect x="191" y="973.5" width="48" height="9"/><text x="215" y="979.8">octave_base_value</text></g>
<g id="bpT" class="n"><rect x="718" y="977.5" width="26" height="9"/><text x="731" y="983.8">bp_table</text></g>
<g id="dispI" class="n"><rect x="197" y="1002.5" width="36" height="9"/><text x="215" y="1008.8">display_info</text></g>
<g id="callS" class="n"><rect x="997" y="1016.5" width="30" height="9"/><text x="1012" y="1022.8">call_stack</text></g>
<g id="profiler" class="n"><rect x="330" y="1110.5" width="24" height="9"/><text x="342" y="1116.8">profiler</text></g>
<g id="spStack" class="n r"><rect x="717" y="1086.5" width="54" height="15"/><text x="744" y="1092.5">std::shared_ptr&lt; stack</text><text x="744" y="1099">_frame &gt;</text></g>
<g id="deque" class="n"><rect x="842" y="1088.5" width="58" height="15"/><text x="871" y="1094.5">std::deque&lt; std::shared</text><text x="871" y="1101">_ptr&lt; stack_frame &gt; &gt;</text></g>
<g id="bool" class="n"><rect x="87" y="1146.5" width="16" height="9"/><text x="95" y="1152.8">bool</text></g>
<g id="stackDbg" class="n"><rect x="1228" y="1273.5" width="60" height="9"/><text x="1258" y="1279.8">std::stack&lt; debugger * &gt;</text></g>
<g id="settings" class="n"><rect x="202" y="1292.5" width="26" height="9"/><text x="215" y="1298.8">settings</text></g>
<g id="debugger" class="n"><rect x="1133" y="1295.5" width="28" height="9"/><text x="1147" y="1301.8">debugger</text></g>
<g id="execMode" class="n"><rect x="990" y="1310.5" width="40" height="9"/><text x="1010" y="1316.8">execution_mode</text></g>
<g id="double" class="n"><rect x="84" y="1329.5" width="22" height="9"/><text x="95" y="1335.8">double</text></g>
<g id="outSys" class="n"><rect x="1127" y="1386.5" width="40" height="9"/><text x="1147" y="1392.8">output_system</text></g>
<g id="mapTree" class="n"><rect x="316" y="1383.5" width="52" height="15"/><text x="342" y="1389.5">std::map&lt; octave_idx</text><text x="342" y="1396">_type, tree_node * &gt;</text></g>
<g id="ptn" class="n"><rect x="192" y="1399.5" width="46" height="9"/><text x="215" y="1405.8">profiler::tree_node</text></g>
<g id="sizeT" class="n"><rect x="85" y="1426.5" width="20" height="9"/><text x="95" y="1432.8">size_t</text></g>
<g id="diaryBuf" class="n r"><rect x="858" y="1433.5" width="26" height="9"/><text x="871" y="1439.8">diary_buf</text></g>
<g id="diaryS" class="n"><rect x="994" y="1433.5" width="36" height="9"/><text x="1012" y="1439.8">diary_stream</text></g>
<g id="ostream" class="n r"><rect x="854" y="1452.5" width="34" height="9"/><text x="871" y="1458.8">std::ostream</text></g>
<g id="pageS" class="n"><rect x="994" y="1452.5" width="36" height="9"/><text x="1012" y="1458.8">page_stream</text></g>
<g id="pagerBuf" class="n r"><rect x="267" y="1470.5" width="28" height="9"/><text x="281" y="1476.8">pager_buf</text></g>
<g id="oproc" class="n"><rect x="995" y="1470.5" width="34" height="9"/><text x="1012" y="1476.8">oprocstream</text></g>
<g id="procB" class="n r"><rect x="850" y="1493.5" width="42" height="9"/><text x="871" y="1499.8">procstreambase</text></g>
<g id="ofstream" class="n"><rect x="996" y="1489.5" width="32" height="9"/><text x="1012" y="1495.8">std::ofstream</text></g>
<g id="evMgr" class="n"><rect x="1127" y="1493.5" width="40" height="9"/><text x="1147" y="1499.8">event_manager</text></g>
<g id="basicOf" class="n r"><rect x="847" y="1509.5" width="48" height="15"/><text x="871" y="1515.5">std::basic_ofstream</text><text x="871" y="1522">&lt; Char &gt;</text></g>
<g id="spEvents" class="n r"><rect x="980" y="1507.5" width="64" height="15"/><text x="1012" y="1513.5">std::shared_ptr&lt; interpreter</text><text x="1012" y="1520">_events &gt;</text></g>
<g id="mutex" class="n"><rect x="1001" y="1531.5" width="22" height="9"/><text x="1012" y="1537.8">mutex *</text></g>
<g id="stackEQ" class="n r"><rect x="984" y="1549.5" width="56" height="15"/><text x="1012" y="1555.5">std::stack&lt; std::shared</text><text x="1012" y="1562">_ptr&lt; event_queue &gt; &gt;</text></g>
</g>
</g>
</svg>
